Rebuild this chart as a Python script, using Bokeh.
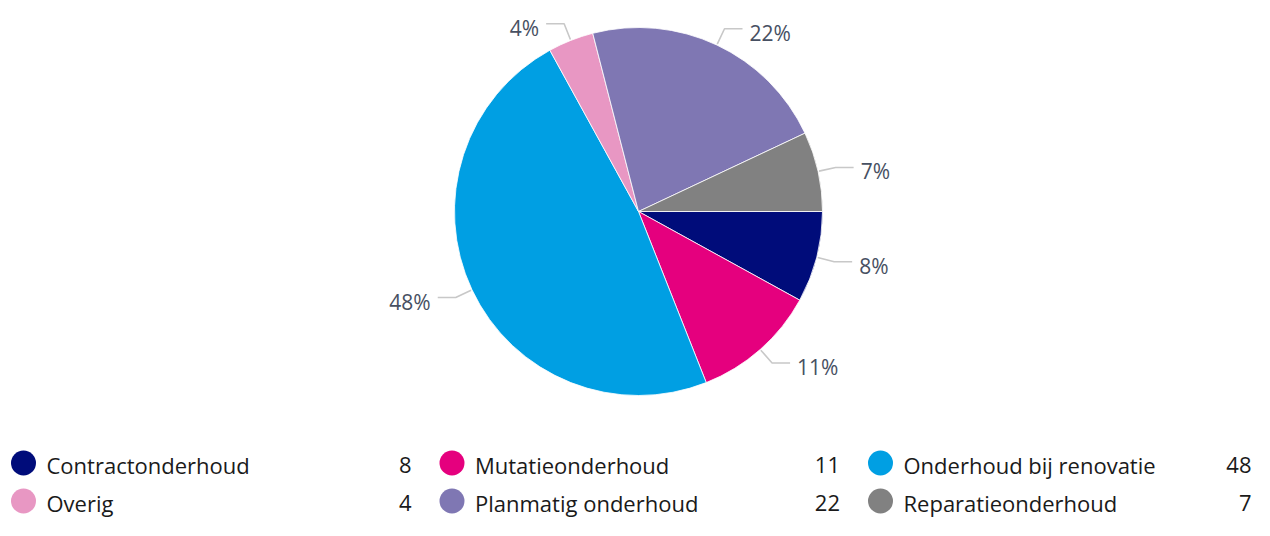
import math
from bokeh.plotting import figure
from bokeh.models import ColumnDataSource, Range1d
from bokeh.core.properties import value
from bokeh.embed import file_html
from bokeh.resources import INLINE

# ---- data ----
categories = ["Contractonderhoud", "Mutatieonderhoud", "Onderhoud bij renovatie",
              "Overig", "Planmatig onderhoud", "Reparatieonderhoud"]
values = [8, 11, 48, 4, 22, 7]
colors = ["#000c7a", "#e5007e", "#009fe3", "#e897c3", "#7f77b3", "#818181"]

FONT = value("Open Sans")
LABEL_COLOR = "#475062"
LEGEND_COLOR = "#1a1a1a"
TXT_SHIFT = 7  # compensate baseline placement

W, H = 1254, 520
# figure pixel coordinates: x = px, y = -py
p = figure(width=W, height=H, output_backend="svg", toolbar_location=None,
           x_range=Range1d(0, W), y_range=Range1d(-H, 0),
           min_border=0, outline_line_color=None)
p.axis.visible = False
p.grid.visible = False
p.background_fill_color = "white"
p.border_fill_color = "white"

cx, cy, r = 638, -211, 184
total = float(sum(values))

starts, ends = [], []
lx, ly, ltxt, lalign = [], [], [], []
cxs, cys = [], []
cum = 0.0
for v in values:
    a0 = cum / total * 2 * math.pi
    a1 = (cum + v) / total * 2 * math.pi
    cum += v
    starts.append(-a1)
    ends.append(-a0)
    mid = -(a0 + a1) / 2
    ex, ey = cx + (r + 1) * math.cos(mid), cy + (r + 1) * math.sin(mid)
    kx, ky = cx + (r + 18) * math.cos(mid), cy + (r + 18) * math.sin(mid)
    right = math.cos(mid) >= 0
    sgn = 1 if right else -1
    hx = kx + sgn * 18
    cxs.append([ex, kx, hx])
    cys.append([ey, ky, ky])
    lx.append(kx + sgn * 25)
    ly.append(ky - 11 + TXT_SHIFT)
    ltxt.append(f"{round(v / total * 100)}%")
    lalign.append("left" if right else "right")

pie_src = ColumnDataSource(dict(start=starts, end=ends, color=colors, cat=categories))
p.wedge(x=cx, y=cy, radius=r, start_angle="start", end_angle="end",
        fill_color="color", line_color="white", line_width=0.8, source=pie_src)

p.multi_line(xs=cxs, ys=cys, line_color="#c8c8c8", line_width=1.6)

lab_src = ColumnDataSource(dict(x=lx, y=ly, t=ltxt, a=lalign))
p.text(x="x", y="y", text="t", text_align="a", text_baseline="alphabetic",
       text_font=FONT, text_font_size="21px", text_color=LABEL_COLOR, source=lab_src)

# ---- legend ----
col_w = 428.5
row_base = [-471, -509]
dot_x, dot_y, txt_x, txt_y, val_x, val_t = [], [], [], [], [], []
for i, (c, v) in enumerate(zip(categories, values)):
    col, row = i % 3, i // 3
    off = col * col_w
    dot_x.append(23 + off)
    dot_y.append(row_base[row] + 8.5)
    txt_x.append(46 + off)
    txt_y.append(row_base[row] + TXT_SHIFT)
    val_x.append(min(411 + off, W - 3))
    val_t.append(str(v))

p.scatter(x=dot_x, y=dot_y, size=25, marker="circle", fill_color=colors, line_color=None)
p.text(x=txt_x, y=txt_y, text=categories, text_align="left", text_baseline="alphabetic",
       text_font=FONT, text_font_size="22px", text_color=LEGEND_COLOR)
p.text(x=val_x, y=txt_y, text=val_t, text_align="right", text_baseline="alphabetic",
       text_font=FONT, text_font_size="22px", text_color=LEGEND_COLOR)

open("out.html", "w").write(file_html(p, INLINE))
